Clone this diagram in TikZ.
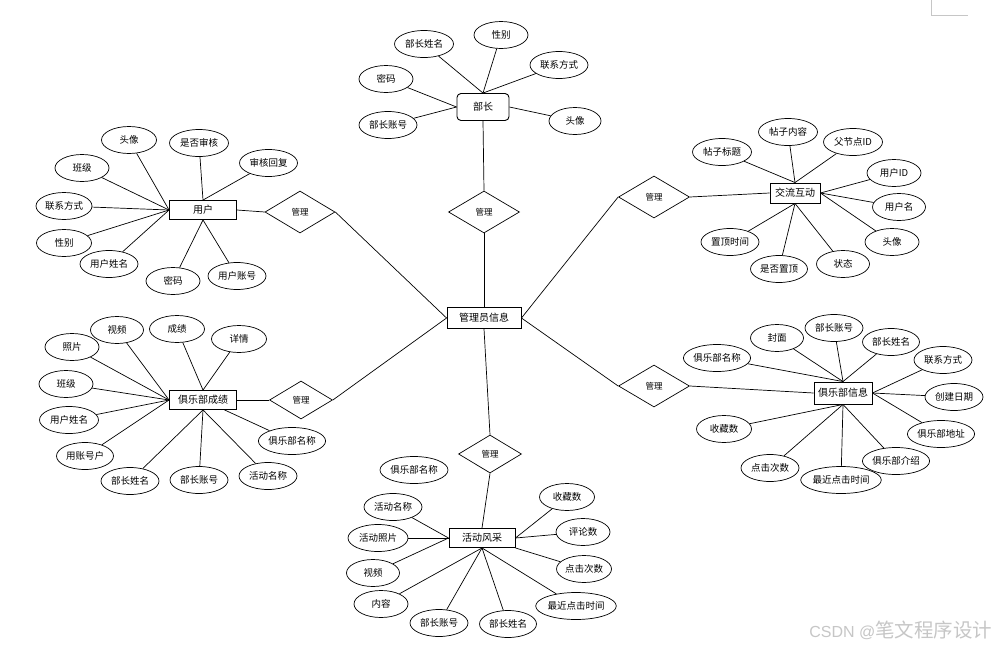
\documentclass[tikz,border=0pt]{standalone}
\usepackage{fontspec}
\setmainfont{Noto Sans CJK SC}
\newfontfamily\wmlatin{Liberation Sans}
\usetikzlibrary{shapes.geometric}
\tikzset{
  attr/.style={draw, ellipse, inner sep=0pt, minimum height=27, minimum width=55, font=\fontsize{9.5}{10}\selectfont},
  ent/.style={draw, rectangle, line width=0.9pt, inner sep=0pt, minimum height=19, font=\fontsize{10}{11}\selectfont},
  rel/.style={draw, diamond, inner sep=0pt, minimum width=71, minimum height=42, font=\fontsize{8.5}{9}\selectfont},
}
\begin{document}
\begin{tikzpicture}[x=1pt,y=-1pt,line width=0.7pt]
\useasboundingbox (0,0) rectangle (1004,646);
\fill[white] (0,0) rectangle (1004,646);
\draw[gray!45, line width=0.8pt] (931,0) -- (931,15) -- (968,15);

% center
\node[ent, minimum width=74, minimum height=21] (adm) at (484,318) {管理员信息};

% 部长
\node[draw, rounded corners=4pt, line width=0.9pt, minimum width=52, minimum height=27, inner sep=0pt, font=\fontsize{10}{11}\selectfont] (bz) at (483,107) {部长};
\node[attr, minimum width=59] (bz1) at (424,44) {部长姓名};
\node[attr, minimum width=54] (bz2) at (501,35) {性别};
\node[attr, minimum width=58] (bz3) at (559,65) {联系方式};
\node[attr, minimum width=54] (bz4) at (386,79) {密码};
\node[attr, minimum width=58] (bz5) at (388,125) {部长账号};
\node[attr, minimum width=52] (bz6) at (575,121) {头像};
\node[rel] (rtop) at (484,212) {管理};
\draw (bz1) -- (bz.north); \draw (bz2) -- (bz.north); \draw (bz3) -- (bz.north);
\draw (bz4) -- (bz.west); \draw (bz5) -- (bz.west); \draw (bz6) -- (bz.east);
\draw (bz.south) -- (rtop.north); \draw (rtop.south) -- (adm.north);

% 用户
\node[ent, minimum width=67] (yh) at (203,210) {用户};
\node[rel, minimum width=70] (ryh) at (300,212) {管理};
\node[attr, minimum width=55] (yh1) at (129,140) {头像};
\node[attr, minimum width=59] (yh2) at (199,143) {是否审核};
\node[attr, minimum width=58] (yh3) at (268.5,163) {审核回复};
\node[attr, minimum width=54] (yh4) at (82,168) {班级};
\node[attr, minimum width=56] (yh5) at (64,206) {联系方式};
\node[attr, minimum width=55] (yh6) at (64,243) {性别};
\node[attr, minimum width=58] (yh7) at (109,264) {用户姓名};
\node[attr, minimum width=54] (yh8) at (173,281) {密码};
\node[attr, minimum width=58] (yh9) at (237,276) {用户账号};
\foreach \n in {yh1,yh4,yh5,yh6,yh7} \draw (\n) -- (yh.west);
\foreach \n in {yh2,yh3} \draw (\n) -- (yh.north);
\foreach \n in {yh8,yh9} \draw (\n) -- (yh.south);
\draw (yh.east) -- (ryh.west); \draw (ryh.east) -- (adm.west);

% 交流互动
\node[ent, minimum width=50, minimum height=20] (jl) at (795,193) {交流互动};
\node[rel] (rjl) at (654,197) {管理};
\node[attr, minimum width=59] (jl1) at (788,132) {帖子内容};
\node[attr, minimum width=59] (jl2) at (853,142) {父节点ID};
\node[attr, minimum width=59] (jl3) at (722,152) {帖子标题};
\node[attr, minimum width=54] (jl4) at (894,173) {用户ID};
\node[attr, minimum width=53] (jl5) at (899,207) {用户名};
\node[attr, minimum width=54] (jl6) at (892,242) {头像};
\node[attr, minimum width=53] (jl7) at (843,264) {状态};
\node[attr, minimum width=57] (jl8) at (779,269) {是否置顶};
\node[attr, minimum width=58] (jl9) at (730,242) {置顶时间};
\foreach \n in {jl1,jl2,jl3} \draw (\n) -- (jl.north);
\foreach \n in {jl4,jl5,jl6} \draw (\n) -- (jl.east);
\foreach \n in {jl7,jl8,jl9} \draw (\n) -- (jl.south);
\draw (rjl.east) -- (jl.west); \draw (rjl.west) -- (adm.east);

% 俱乐部成绩
\node[ent, minimum width=67] (cj) at (203,400) {俱乐部成绩};
\node[rel, minimum width=63, minimum height=38] (rcj) at (301,400) {管理};
\node[attr, minimum width=53] (cj1) at (117,330) {视频};
\node[attr, minimum width=55] (cj2) at (177,329) {成绩};
\node[attr, minimum width=55] (cj3) at (239,339) {详情};
\node[attr, minimum width=54] (cj4) at (72,347) {照片};
\node[attr, minimum width=54] (cj5) at (66,384) {班级};
\node[attr, minimum width=59] (cj6) at (69,420) {用户姓名};
\node[attr, minimum width=57] (cj7) at (85,456) {用账号户};
\node[attr, minimum width=58] (cj8) at (130,481) {部长姓名};
\node[attr, minimum width=58] (cj9) at (199,480) {部长账号};
\node[attr, minimum width=58] (cj10) at (268,476) {活动名称};
\node[attr, minimum width=65] (cj11) at (292,441) {俱乐部名称};
\foreach \n in {cj1,cj4,cj5,cj6,cj7} \draw (\n) -- (cj.west);
\foreach \n in {cj2,cj3} \draw (\n) -- (cj.north);
\foreach \n in {cj8,cj9,cj10} \draw (\n) -- (cj.south);
\draw (cj11) -- (cj);
\draw (cj.east) -- (rcj.west); \draw (rcj.east) -- (adm.west);

% 俱乐部信息
\node[ent, minimum width=58, minimum height=22] (xx) at (843,393) {俱乐部信息};
\node[rel] (rxx) at (654,386) {管理};
\node[attr, minimum width=53] (xx1) at (777,338) {封面};
\node[attr, minimum width=58] (xx2) at (834,328) {部长账号};
\node[attr, minimum width=57] (xx3) at (891,342) {部长姓名};
\node[attr, minimum width=67] (xx4) at (717,358) {俱乐部名称};
\node[attr, minimum width=58] (xx5) at (943,360) {联系方式};
\node[attr, minimum width=58] (xx6) at (954,397) {创建日期};
\node[attr, minimum width=67] (xx7) at (941,434) {俱乐部地址};
\node[attr, minimum width=55] (xx8) at (724,429) {收藏数};
\node[attr, minimum width=58] (xx9) at (770,468) {点击次数};
\node[attr, minimum width=77] (xx10) at (841,480) {最近点击时间};
\node[attr, minimum width=67] (xx11) at (896,461) {俱乐部介绍};
\foreach \n in {xx1,xx2,xx3,xx4} \draw (\n) -- (xx.north);
\foreach \n in {xx5,xx6,xx7} \draw (\n) -- (xx.east);
\foreach \n in {xx8,xx9,xx10,xx11} \draw (\n) -- (xx.south);
\draw (rxx.east) -- (xx.west); \draw (rxx.west) -- (adm.east);

% 活动风采
\node[ent, minimum width=66] (hd) at (482,538) {活动风采};
\node[rel, minimum width=63, minimum height=38] (rhd) at (490,454) {管理};
\node[attr, minimum width=68] (hd0) at (414,470) {俱乐部名称};
\node[attr, minimum width=58] (hd1) at (393,507) {活动名称};
\node[attr, minimum width=60] (hd2) at (378,538) {活动照片};
\node[attr, minimum width=53] (hd3) at (373,573) {视频};
\node[attr, minimum width=54] (hd4) at (381,604) {内容};
\node[attr, minimum width=58] (hd5) at (439,623) {部长账号};
\node[attr, minimum width=57] (hd6) at (508,624) {部长姓名};
\node[attr, minimum width=55] (hd7) at (567,497) {收藏数};
\node[attr, minimum width=54] (hd8) at (583,532) {评论数};
\node[attr, minimum width=55] (hd9) at (584,569) {点击次数};
\node[attr, minimum width=74] (hd10) at (576,606) {最近点击时间};
\foreach \n in {hd1,hd2,hd3} \draw (\n) -- (hd.west);
\foreach \n in {hd4,hd5,hd6,hd10} \draw (\n) -- (hd.south);
\foreach \n in {hd7,hd8} \draw (\n) -- (hd.east);
\draw (hd9) -- (hd.south east);
\draw (adm.south) -- (rhd.north); \draw (rhd.south) -- (hd.north);

% watermark
\node[text=gray!45, inner sep=0pt, anchor=west] (wm) at (809,630) {{\wmlatin\fontsize{16}{18}\selectfont CSDN @}{\fontsize{19.5}{20}\selectfont 笔文程序设计}};
\end{tikzpicture}
\end{document}
